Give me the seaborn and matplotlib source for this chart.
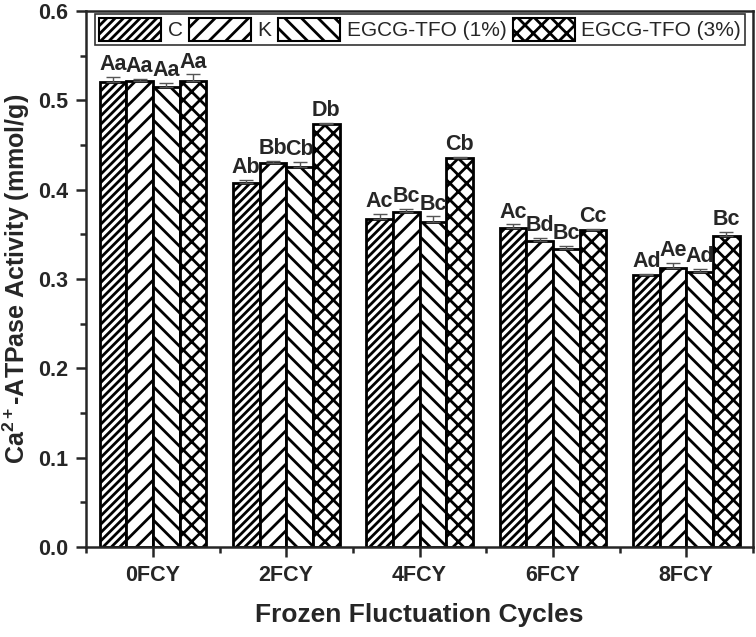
import numpy as np
import pandas as pd
import matplotlib
matplotlib.use("Agg")
import matplotlib.pyplot as plt
import matplotlib.patches as mpatches
from matplotlib.ticker import MultipleLocator
import seaborn as sns

# ================================
# DATA
# ================================
cycles = ["0FCY", "2FCY", "4FCY", "6FCY", "8FCY"]
groups = ["C", "K", "EGCG-TFO (1%)", "EGCG-TFO (3%)"]

c_vals = [0.520, 0.407, 0.367, 0.357, 0.304]
k_vals = [0.521, 0.430, 0.375, 0.342, 0.312]
e1_vals = [0.515, 0.425, 0.364, 0.334, 0.308]
e3_vals = [0.522, 0.473, 0.435, 0.355, 0.348]

c_err = [0.006, 0.004, 0.006, 0.004, 0.002]
k_err = [0.003, 0.002, 0.003, 0.004, 0.006]
e1_err = [0.004, 0.006, 0.006, 0.003, 0.003]
e3_err = [0.007, 0.002, 0.002, 0.001, 0.005]

c_lbl = ["Aa", "Ab", "Ac", "Ac", "Ad"]
k_lbl = ["Aa", "Bb", "Bc", "Bd", "Ae"]
e1_lbl = ["Aa", "Cb", "Bc", "Bc", "Ad"]
e3_lbl = ["Aa", "Db", "Cb", "Cc", "Bc"]

hatches = ["////", "//", "\\\\", "xx"]

vals = [c_vals, k_vals, e1_vals, e3_vals]
errs = [c_err, k_err, e1_err, e3_err]
lbls = [c_lbl, k_lbl, e1_lbl, e3_lbl]

df = pd.DataFrame({
    "cycle": np.tile(cycles, len(groups)),
    "group": np.repeat(groups, len(cycles)),
    "value": np.concatenate(vals),
})

# ================================
# PLOT
# ================================
sns.set_style("ticks")
plt.rcParams["font.family"] = ["Liberation Sans", "DejaVu Sans"]
plt.rcParams["hatch.linewidth"] = 2.0
plt.rcParams["mathtext.fontset"] = "custom"
plt.rcParams["mathtext.rm"] = "Liberation Sans:bold"
plt.rcParams["mathtext.bf"] = "Liberation Sans:bold"

fig = plt.figure(figsize=(7.56, 6.37), dpi=100)
ax = fig.add_axes([0.114, 0.141, 0.882, 0.842])

sns.barplot(data=df, x="cycle", y="value", hue="group", order=cycles,
            hue_order=groups, palette=["white"] * 4, edgecolor="black",
            linewidth=2, width=0.8, gap=0, errorbar=None, legend=False, ax=ax)

for cont, h, ev, lb in zip(ax.containers, hatches, errs, lbls):
    xs, tops = [], []
    for bar in cont:
        bar.set_hatch(h)
        xs.append(bar.get_x() + bar.get_width() / 2)
        tops.append(bar.get_height())
    xs = np.array(xs)
    tops = np.array(tops)
    ax.errorbar(xs, tops, yerr=[np.zeros_like(tops), ev], fmt="none",
                ecolor="#555555", elinewidth=1, capsize=5, capthick=1, zorder=3)
    for x, t, e, s in zip(xs, tops, ev, lb):
        ax.text(x, t + e + 0.002, s, ha="center", va="bottom",
                fontsize=15.5, fontweight="bold")

ax.set_xlim(-0.5, 4.5)
ax.set_ylim(0, 0.6)
ax.yaxis.set_major_locator(MultipleLocator(0.1))
ax.yaxis.set_minor_locator(MultipleLocator(0.05))
ax.set_xticks(range(len(cycles)))
ax.set_xticks(np.arange(-0.5, 4.6, 1), minor=True)
ax.set_xticklabels(cycles)
ax.tick_params(axis="both", which="major", direction="out", length=7, width=1.8,
               labelsize=15.5, pad=6)
ax.tick_params(axis="both", which="minor", direction="out", length=4, width=1.8)
for lab in ax.get_xticklabels() + ax.get_yticklabels():
    lab.set_fontweight("bold")
for sp in ax.spines.values():
    sp.set_linewidth(1.8)
    sp.set_visible(True)

ax.set_xlabel("Frozen Fluctuation Cycles", fontsize=19, fontweight="bold",
              labelpad=12)
ax.set_ylabel(r"Ca$^{\mathbf{2+}}$-ATPase Activity (mmol/g)", fontsize=18,
              fontweight="bold", labelpad=4)

handles = [mpatches.Patch(facecolor="white", edgecolor="black", hatch=h,
                          linewidth=1.5, label=g) for h, g in zip(hatches, groups)]
leg = ax.legend(handles=handles, loc="upper left", bbox_to_anchor=(0.008, 1.0),
                ncol=4, fontsize=15, frameon=True, fancybox=False,
                edgecolor="black", handlelength=3.0, handleheight=1.3,
                handletextpad=0.3, columnspacing=0.3, borderpad=0.2,
                borderaxespad=0.15)
leg.get_frame().set_linewidth(1.2)

plt.savefig("out.png", dpi=100)
plt.close()
